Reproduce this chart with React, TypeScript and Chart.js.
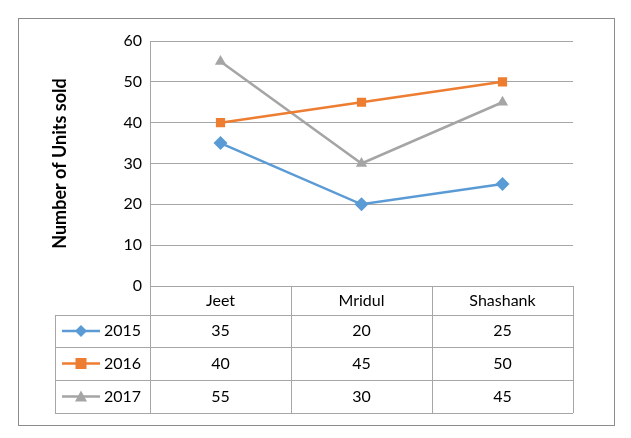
import React, { useEffect, useRef } from "react";
import { Chart, registerables } from "chart.js";
Chart.register(...registerables);

const categories = ["Jeet", "Mridul", "Shashank"];
const seriesNames = ["2015", "2016", "2017"];
const s2015 = [35, 20, 25];
const s2016 = [40, 45, 50];
const s2017 = [55, 30, 45];
const colors = ["#5B9BD5", "#ED7D31", "#A5A5A5"];
const markers = ["rectRot", "rect", "triangle"];
const FONT = "Lato, 'Open Sans', sans-serif";

export default function App() {
  const ref = useRef<HTMLCanvasElement>(null);
  useEffect(() => {
    const values = [s2015, s2016, s2017];
    const tablePlugin = {
      id: "table",
      afterDraw(chart: any) {
        const ctx = chart.ctx;
        const xs = chart.scales.x;
        const area = chart.chartArea;
        const left = area.left, right = area.right, top = area.bottom;
        const colW = (right - left) / categories.length;
        const rows = [top, top + 29, top + 61, top + 94, top + 127];
        const tl = 55;
        ctx.save();
        ctx.strokeStyle = "#A6A6A6";
        ctx.lineWidth = 1;
        ctx.beginPath();
        ctx.moveTo(left, rows[0] + 0.5); ctx.lineTo(right, rows[0] + 0.5);
        for (let i = 1; i < rows.length; i++) {
          ctx.moveTo(tl, rows[i] + 0.5); ctx.lineTo(right, rows[i] + 0.5);
        }
        ctx.moveTo(tl + 0.5, rows[1]); ctx.lineTo(tl + 0.5, rows[4]);
        for (let c = 0; c <= categories.length; c++) {
          const x = Math.round(left + c * colW) + 0.5;
          ctx.moveTo(x, rows[0]); ctx.lineTo(x, rows[4]);
        }
        ctx.stroke();
        ctx.strokeStyle = "#8C8C8C";
        ctx.strokeRect(18.5, 18.5, 596, 407);
        ctx.fillStyle = "#000";
        ctx.font = `16px ${FONT}`;
        ctx.textAlign = "center";
        ctx.textBaseline = "middle";
        categories.forEach((c, i) => {
          ctx.fillText(c, xs.getPixelForValue(i), (rows[0] + rows[1]) / 2);
        });
        seriesNames.forEach((name, r) => {
          const cy = (rows[r + 1] + rows[r + 2]) / 2;
          values[r].forEach((v, i) => {
            ctx.fillText(String(v), xs.getPixelForValue(i), cy);
          });
          ctx.strokeStyle = colors[r];
          ctx.lineWidth = 2.5;
          ctx.beginPath();
          ctx.moveTo(62, cy); ctx.lineTo(100, cy); ctx.stroke();
          ctx.fillStyle = colors[r];
          const m = 6;
          ctx.beginPath();
          if (r === 0) {
            ctx.moveTo(81, cy - m); ctx.lineTo(81 + m, cy); ctx.lineTo(81, cy + m); ctx.lineTo(81 - m, cy);
          } else if (r === 1) {
            ctx.rect(81 - m + 0.5, cy - m + 0.5, 2 * m - 1, 2 * m - 1);
          } else {
            ctx.moveTo(81, cy - m); ctx.lineTo(81 + m, cy + m - 1); ctx.lineTo(81 - m, cy + m - 1);
          }
          ctx.closePath(); ctx.fill();
          ctx.fillStyle = "#000";
          ctx.textAlign = "left";
          ctx.fillText(name, 104, cy);
          ctx.textAlign = "center";
        });
        ctx.restore();
      },
    };
    const chart = new Chart(ref.current!, {
      type: "line",
      data: {
        labels: categories,
        datasets: values.map((d, i) => ({
          label: seriesNames[i],
          data: d,
          borderColor: colors[i],
          backgroundColor: colors[i],
          borderWidth: 2.5,
          pointStyle: markers[i] as any,
          pointRadius: i === 0 ? 7 : 6.5,
          pointBorderWidth: 0,
          tension: 0,
        })),
      },
      options: {
        animation: false,
        responsive: false,
        devicePixelRatio: 1,
        layout: { padding: { left: 45, right: 58, top: 41, bottom: 152 } },
        plugins: { legend: { display: false }, tooltip: { enabled: false } },
        scales: {
          x: {
            offset: true,
            ticks: { display: false },
            grid: { display: false },
            border: { display: false },
            afterFit: (s: any) => { s.height = 0; },
          },
          y: {
            min: 0, max: 60,
            ticks: { stepSize: 10, color: "#000", font: { size: 16, family: FONT }, padding: 8 },
            grid: { color: "#A6A6A6", drawTicks: false },
            border: { display: true, color: "#A6A6A6" },
            title: { display: true, text: "Number of Units sold", color: "#000", font: { size: 18, weight: "bold", family: FONT } },
            afterFit: (s: any) => { s.width = 105; },
          },
        },
      },
      plugins: [tablePlugin],
    });
    return () => chart.destroy();
  }, []);
  return (
    <div style={{ position: "fixed", left: 0, top: 0, width: 631, height: 438, background: "#fff" }}>
      <canvas ref={ref} width={631} height={438} />
    </div>
  );
}
